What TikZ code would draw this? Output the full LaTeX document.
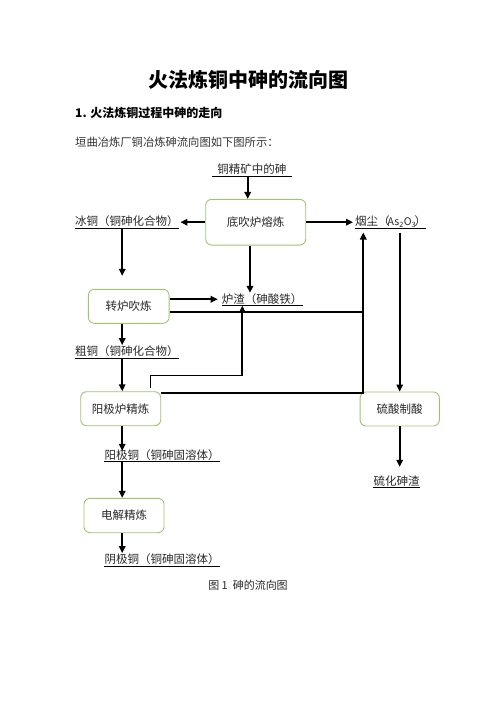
\documentclass[tikz,border=0pt]{standalone}
\usepackage{fontspec}
\setmainfont{Noto Sans CJK SC}
\usetikzlibrary{arrows.meta}

\definecolor{flowgreen}{RGB}{160,196,110}
\definecolor{flowtext}{RGB}{40,40,40}

\begin{document}
\begin{tikzpicture}[x=1pt,y=-1pt,>={Triangle[length=7pt,width=6.5pt]},
    stage/.style={draw=flowgreen,line width=.9pt,rounded corners=6pt,
      minimum height=34pt,minimum width=80pt,inner sep=0pt,
      font=\fontsize{11.5}{13}\selectfont,text=flowtext},
    product/.style={anchor=south west,inner xsep=0pt,inner ysep=.5pt,
      text height=10pt,text depth=1.5pt,
      font=\fontsize{11.5}{13}\selectfont,text=flowtext},
    arr/.style={->,line width=1.8pt},
    pipe/.style={line width=1.8pt}]
    \useasboundingbox (0,0) rectangle (496,702);

    \node[font=\bfseries\fontsize{20}{24}\selectfont] (title) at (248,80)
      {火法炼铜中砷的流向图};
    \node[anchor=west,inner sep=0pt,font=\bfseries\fontsize{12}{14}\selectfont]
      (heading) at (75,112.5) {1. 火法炼铜过程中砷的走向};
    \node[anchor=west,inner sep=0pt,text=black!80,font=\fontsize{11.3}{13}\selectfont]
      (intro) at (75,142) {垣曲冶炼厂铜冶炼砷流向图如下图所示：};

    \node[stage,minimum width=100pt,minimum height=45.7pt] (dichui) at (255.7,222.2) {底吹炉熔炼};
    \node[stage,minimum width=80.7pt] (zhuanlu) at (128.7,306.3) {转炉吹炼};
    \node[stage] (yangji) at (120.7,408.7) {阳极炉精炼};
    \node[stage,minimum width=79.3pt] (liusuan) at (399.7,409) {硫酸制酸};
    \node[stage,minimum height=34.4pt] (dianjie) at (124,515.5) {电解精炼};

    \node[product,minimum width=80pt,align=center] (jingkuang) at (211.7,176) {铜精矿中的砷};
    \node[product] (bingtong) at (75,228) {冰铜（铜砷化合物）};
    \node[product] (yanchen) at (355,228)
      {烟尘（\kern-2pt{\fontsize{10.5}{12}\selectfont As\textsubscript{2}O\textsubscript{3}}\kern-1.5pt）};
    \node[product] (luzha) at (221.7,305.7) {炉渣（砷酸铁）};
    \node[product] (cutong) at (75,358) {粗铜（铜砷化合物）};
    \node[product] (yangjitong) at (104.3,461.7) {阳极铜（铜砷固溶体）};
    \node[product] (liuhua) at (373.3,487.7) {硫化砷渣};
    \node[product] (yinjitong) at (104.3,566) {阴极铜（铜砷固溶体）};
    \foreach \n in {jingkuang,bingtong,yanchen,luzha,cutong,yangjitong,liuhua,yinjitong} {
      \draw[line width=.9pt] (\n.south west) -- (\n.south east);
    }

    \node[font=\fontsize{11}{13}\selectfont,text=flowtext] (caption) at (248,585)
      {图 1\ \ 砷的流向图};

    \coordinate (col) at (122.2,0);
    \coordinate (feed) at (247.7,0);
    \coordinate (riser) at ([xshift=8.3pt,yshift=-4.5pt]yanchen.south west);

    \draw[arr] (feed |- jingkuang.south) -- (feed |- dichui.north);
    \draw[arr,shorten >=1.5pt] (dichui.west) -- (dichui.west -| bingtong.east);
    \draw[arr,shorten >=2pt] (dichui.east) -- (dichui.east -| yanchen.west);
    \draw[arr] (col |- bingtong.south) -- ([yshift=13pt]col |- zhuanlu.north);
    \draw[arr] ([xshift=-5.7pt]dichui.south) -- ([xshift=-5.7pt]dichui.south |- luzha.north);
    \draw[arr,shorten >=4pt] (zhuanlu.east |- luzha.west) -- (luzha.west);
    \draw[pipe] ([yshift=-5.4pt]zhuanlu.east) -- ([yshift=-5.4pt]zhuanlu.east -| riser);
    \draw[arr] ([yshift=-2pt]yangji.north east) -| (riser);
    \draw[arr] ([xshift=-10.7pt,yshift=3.5pt]yangji.north east) -- ++(0,-12.3)
      -| ([xshift=20.6pt]luzha.south west);
    \draw[arr] ([yshift=-4.5pt]yanchen.south -| liusuan.north) -- (liusuan.north);
    \draw[arr,shorten >=8pt] (liusuan.south) -- (liusuan.south |- liuhua.north);
    \draw[arr] (col |- zhuanlu.south) -- (col |- cutong.north);
    \draw[arr] (col |- cutong.south) -- (col |- yangji.north);
    \draw[arr,shorten >=-2pt] (col |- yangji.south) -- (col |- yangjitong.north);
    \draw[arr] (col |- yangjitong.south) -- (col |- dianjie.north);
    \draw[arr] (col |- dianjie.south) -- (col |- yinjitong.north);
  \end{tikzpicture}
\end{document}
